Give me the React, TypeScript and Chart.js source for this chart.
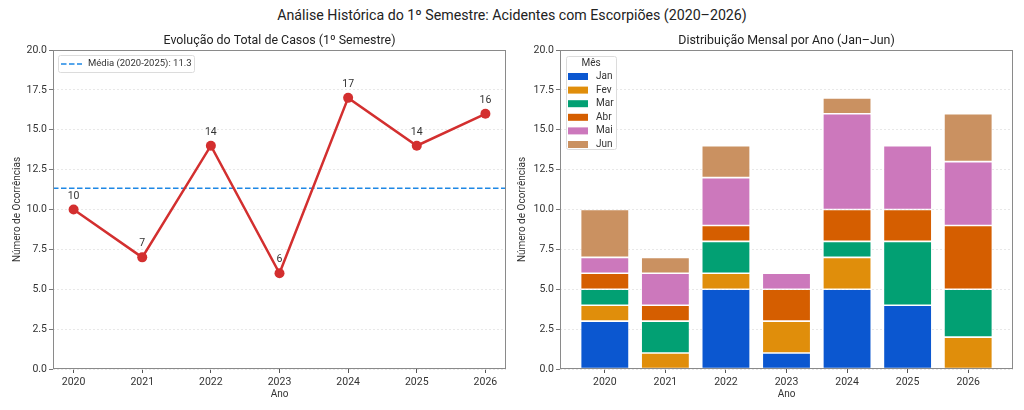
import { useEffect, useRef } from "react";
import { Chart, registerables, Plugin } from "chart.js";

Chart.register(...registerables);

const FONT = "Roboto";

const years = [2020, 2021, 2022, 2023, 2024, 2025, 2026];
const totals = [10, 7, 14, 6, 17, 14, 16];
const yTicks = [0, 2.5, 5, 7.5, 10, 12.5, 15, 17.5, 20];

const months = ["Jan", "Fev", "Mar", "Abr", "Mai", "Jun"];
const jan = [3, 0, 5, 1, 5, 4, 0];
const fev = [1, 1, 1, 2, 2, 0, 2];
const mar = [1, 2, 2, 0, 1, 4, 3];
const abr = [1, 1, 1, 2, 2, 2, 4];
const mai = [1, 2, 3, 1, 6, 4, 4];
const jun = [3, 1, 2, 0, 1, 0, 3];
const monthColors = ["#0b57d0", "#e08e0b", "#02a073", "#d55e00", "#cc78bc", "#ca9161"];

// mean of the completed years only (2020-2025)
const meanYears = totals.slice(0, 6);
const mean = meanYears.reduce((a, b) => a + b, 0) / meanYears.length;

const tickColor = "#333";

function yAxis(width: number, titlePad: number) {
  return {
    min: 0,
    max: 20,
    afterFit: (s: any) => {
      s.width = width;
    },
    afterBuildTicks: (s: any) => {
      s.ticks = yTicks.map((v) => ({ value: v }));
    },
    ticks: {
      color: tickColor,
      font: { family: FONT, size: 10.5 },
      padding: 2,
      callback: (v: any) => Number(v).toFixed(1),
    },
    grid: {
      color: "#e3e3e3",
      lineWidth: 0.8,
      tickLength: 4,
      tickColor: "#555",
      tickBorderDash: [],
    },
    border: { display: false, dash: [2, 2] },
    title: {
      display: true,
      text: "Número de Ocorrências",
      color: tickColor,
      font: { family: FONT, size: 10 },
      padding: { top: titlePad, bottom: 0 },
    },
  };
}

function xAxis(min: number, max: number) {
  return {
    type: "linear" as const,
    min,
    max,
    offset: false,
    afterFit: (s: any) => {
      s.height = 41;
    },
    afterBuildTicks: (s: any) => {
      s.ticks = years.map((v) => ({ value: v }));
    },
    ticks: {
      color: tickColor,
      font: { family: FONT, size: 10.5 },
      padding: 3,
      callback: (v: any) => String(v),
    },
    grid: {
      offset: false,
      drawOnChartArea: false,
      tickLength: 4,
      tickColor: "#555",
    },
    border: { display: false },
    title: {
      display: true,
      text: "Ano",
      color: tickColor,
      font: { family: FONT, size: 10 },
      padding: { top: 0, bottom: 10 },
    },
  };
}

// frame + panel title
function framePlugin(title: string): Plugin {
  return {
    id: "frame",
    afterDraw(chart) {
      const { ctx, chartArea: a } = chart;
      ctx.save();
      ctx.strokeStyle = "#8a8a8a";
      ctx.lineWidth = 1;
      ctx.strokeRect(a.left + 0.5, a.top + 0.5, a.right - a.left - 1, a.bottom - a.top - 1);
      ctx.fillStyle = "#222";
      ctx.font = `12.4px ${FONT}`;
      ctx.textAlign = "center";
      ctx.textBaseline = "middle";
      ctx.fillText(title, (a.left + a.right) / 2, 41);
      ctx.restore();
    },
  };
}

const meanPlugin: Plugin = {
  id: "mean",
  beforeDatasetsDraw(chart) {
    const { ctx, chartArea: a } = chart;
    const y = chart.scales.y.getPixelForValue(mean);
    ctx.save();
    ctx.strokeStyle = "#1e88e5";
    ctx.lineWidth = 1.5;
    ctx.setLineDash([5.5, 2.5]);
    ctx.beginPath();
    ctx.moveTo(a.left, y);
    ctx.lineTo(a.right, y);
    ctx.stroke();
    ctx.restore();
  },
  afterDatasetsDraw(chart) {
    const { ctx } = chart;
    const meta = chart.getDatasetMeta(0);
    ctx.save();
    ctx.fillStyle = "#333";
    ctx.font = `10.5px ${FONT}`;
    ctx.textAlign = "center";
    ctx.textBaseline = "middle";
    meta.data.forEach((pt: any, i) => {
      ctx.fillText(String(totals[i]), pt.x, pt.y - 13.5);
    });
    // legend
    const lx = 58, ly = 55, lw = 136, lh = 17;
    ctx.fillStyle = "rgba(255,255,255,0.85)";
    ctx.strokeStyle = "#dcdcdc";
    ctx.lineWidth = 1;
    ctx.beginPath();
    ctx.roundRect(lx + 0.5, ly + 0.5, lw, lh, 2);
    ctx.fill();
    ctx.stroke();
    ctx.strokeStyle = "#1e88e5";
    ctx.lineWidth = 1.5;
    ctx.setLineDash([5.5, 2.5]);
    ctx.beginPath();
    ctx.moveTo(61, ly + 9);
    ctx.lineTo(82, ly + 9);
    ctx.stroke();
    ctx.setLineDash([]);
    ctx.fillStyle = "#333";
    ctx.font = `9.5px ${FONT}`;
    ctx.textAlign = "left";
    ctx.fillText(`Média (2020-2025): ${mean.toFixed(1)}`, 88, ly + 9);
    ctx.restore();
  },
};

const monthLegend: Plugin = {
  id: "monthLegend",
  afterDraw(chart) {
    const { ctx, chartArea: a } = chart;
    const lx = a.left + 6, ly = a.top + 6, lw = 50, lh = 93;
    ctx.save();
    ctx.fillStyle = "rgba(255,255,255,0.85)";
    ctx.strokeStyle = "#dcdcdc";
    ctx.lineWidth = 1;
    ctx.beginPath();
    ctx.roundRect(lx + 0.5, ly + 0.5, lw, lh, 2);
    ctx.fill();
    ctx.stroke();
    ctx.fillStyle = "#333";
    ctx.font = `10px ${FONT}`;
    ctx.textAlign = "center";
    ctx.textBaseline = "middle";
    ctx.fillText("Mês", lx + 25, ly + 7);
    chart.data.datasets.forEach((ds: any, i) => {
      const cy = ly + 20.5 + i * 13.6;
      ctx.fillStyle = ds.backgroundColor;
      ctx.fillRect(lx + 2, cy - 3.5, 20, 7);
      ctx.fillStyle = "#333";
      ctx.textAlign = "left";
      ctx.fillText(ds.label, lx + 30, cy);
    });
    ctx.restore();
  },
};

function LineChart() {
  const ref = useRef<HTMLCanvasElement>(null);
  useEffect(() => {
    if (!ref.current) return;
    const chart = new Chart(ref.current, {
      type: "line",
      data: {
        datasets: [
          {
            label: "Total",
            data: years.map((y, i) => ({ x: y, y: totals[i] })),
            borderColor: "#d32f2f",
            backgroundColor: "#d32f2f",
            borderWidth: 2.5,
            pointRadius: 5,
            pointBorderWidth: 0,
            tension: 0,
          },
        ],
      },
      options: {
        responsive: false,
        animation: false,
        layout: { padding: { top: 50, right: 6, bottom: 0, left: 0 } },
        plugins: { legend: { display: false }, tooltip: { enabled: false } },
        scales: {
          x: xAxis(2019.7, 2026.3),
          y: yAxis(53, 11),
        },
      },
      plugins: [meanPlugin, framePlugin("Evolução do Total de Casos (1º Semestre)")],
    });
    return () => chart.destroy();
  }, []);
  return <canvas ref={ref} width={512} height={410} />;
}

function StackedChart() {
  const ref = useRef<HTMLCanvasElement>(null);
  useEffect(() => {
    if (!ref.current) return;
    const series = [jan, fev, mar, abr, mai, jun];
    const chart = new Chart(ref.current, {
      type: "bar",
      data: {
        datasets: series.map((vals, i) => ({
          label: months[i],
          data: years.map((y, j) => ({ x: y, y: vals[j] })),
          backgroundColor: monthColors[i],
          borderColor: "rgba(255,255,255,0.9)",
          borderWidth: 0.8,
          borderSkipped: false,
          barPercentage: 0.8,
          categoryPercentage: 1,
        })),
      },
      options: {
        responsive: false,
        animation: false,
        layout: { padding: { top: 50, right: 11, bottom: 0, left: 0 } },
        plugins: { legend: { display: false }, tooltip: { enabled: false } },
        scales: {
          x: { ...xAxis(2019.26, 2026.74), stacked: true },
          y: { ...yAxis(48, 4), stacked: true },
        },
      },
      plugins: [monthLegend, framePlugin("Distribuição Mensal por Ano (Jan–Jun)")],
    });
    return () => chart.destroy();
  }, []);
  return <canvas ref={ref} width={512} height={410} />;
}

export default function App() {
  return (
    <div
      style={{
        position: "absolute",
        left: 0,
        top: 0,
        width: 1024,
        height: 410,
        background: "#fff",
        fontFamily: FONT,
      }}
    >
      <div
        style={{
          position: "absolute",
          top: 5,
          left: 0,
          width: 1024,
          textAlign: "center",
          fontSize: 14.2,
          lineHeight: "20px",
          color: "#222",
        }}
      >
        Análise Histórica do 1º Semestre: Acidentes com Escorpiões (2020–2026)
      </div>
      <div style={{ position: "absolute", left: 0, top: 0 }}>
        <LineChart />
      </div>
      <div style={{ position: "absolute", left: 512, top: 0 }}>
        <StackedChart />
      </div>
    </div>
  );
}
